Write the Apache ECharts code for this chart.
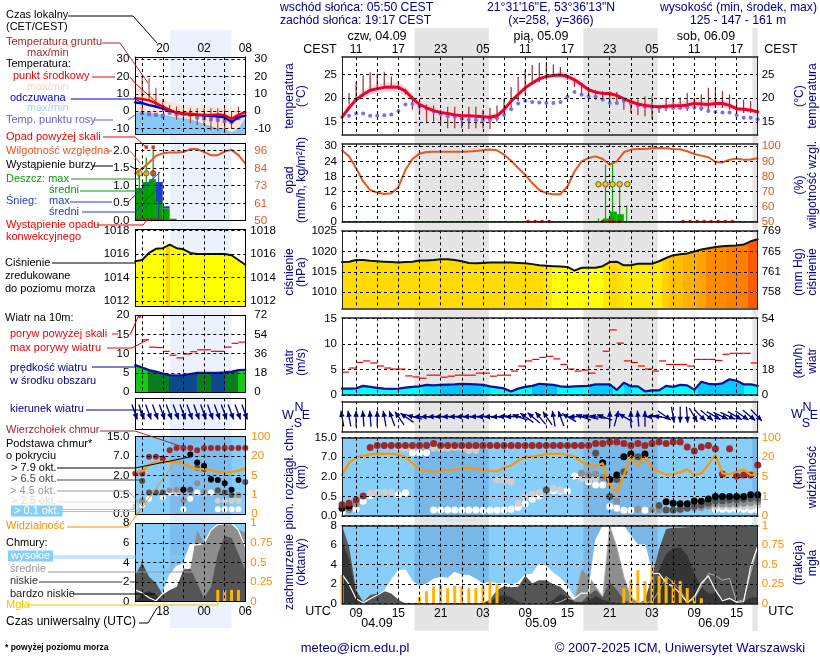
<!DOCTYPE html>
<html><head><meta charset="utf-8">
<script src="https://cdn.jsdelivr.net/npm/echarts@6/dist/echarts.min.js"></script>
<style>html,body{margin:0;padding:0;background:#fff}#c{width:820px;height:660px}</style></head>
<body><div id="c"></div>
<script>
/* ---------- hourly data of the main meteogram: hours since 04.09 00 UTC, first value = hour 7 ---------- */
const mainStart = 7;
const tempMid = [16,18,19.7,20.8,21.7,22,22.3,22.4,22.3,21.5,20,18.7,18,17.4,17,16.8,16.5,16.3,16.3,16.2,16.1,16,16.3,17.6,19.4,20.8,22.2,23.2,24.1,24.6,24.8,24.9,24.6,23.9,22.9,21.8,21.3,21,21,20.6,19.9,19.3,18.8,18.5,18.3,18.2,18.3,18.4,18.4,18.6,18.9,18.8,18.7,18.9,18.9,18.5,17.8,17.7,17.5,17.1];
const tempSpread = [.3,.4,.5,.8,1,1,1,1,1,1,1,1,1,.8,.8,.7,.7,.7,.7,.7,.7,.7,.7,.6,.4,.4,.4,.4,.4,.4,.4,.8,.8,.8,.8,.6,.4,.4,.4,.4,.5,.8,.8,.8,.8,.8,.6,.5,.9,.9,.9,.9,.9,.9,.9,.7,.5,.5,.5,.4];
const dewPoint = [null,16.3,16.8,16.8,16.3,16.3,16.4,16.6,17.3,18.7,18.8,18.3,17.8,17.2,16.7,16.2,16.1,15.7,15.5,15.4,15.4,15.5,15.8,16.5,17.7,18.9,19.5,19.2,19.1,19,19,19.2,20.3,21.3,20.8,20.4,20.3,19.7,19,19,19.4,18.9,18.5,18.2,18.1,18.1,18.1,18,18,18.1,18,17.9,17.3,17.1,17,17,16.5,15.9,15.9,15.6];
const groundMax = [null,21.1,23.4,24.9,25.5,25.2,25.6,24.6,23.6,22,20.4,18.7,18.7,18.5,17.6,18.2,18.2,16.2,18.2,18.2,17.6,18,18.5,19.9,22.4,24.5,26.1,27,27.5,27.7,27.1,26.6,24.9,23.9,23.2,22.2,21.7,21.5,21.5,21.3,20.1,19.7,19.7,20.4,20.4,18.3,20.1,20.1,20.1,21.1,20.1,20.8,22.2,22.2,21.5,20.8,19.5,19.7,19.4,null];
const groundMin = [null,18.7,19.7,20.4,21.5,22.2,22.4,22.4,22.3,20.8,17.6,16.5,14.9,15.1,14.4,13.7,13.7,13.7,13.5,13.7,13.7,13.5,15.1,16.2,17.3,19.4,20.8,22.9,23.4,23.9,24.5,24.6,23.9,22.4,20.4,20.4,19.7,19.4,19,18.7,17.6,16.9,16.5,16.2,15.6,16.9,17.3,17.6,17.6,17.3,17.6,17.3,17.6,18,18,17.6,16.9,16.9,16.9,null];
const humidity = [97.3,93.3,85.6,76.7,71,69.3,68.4,68.9,72.9,84.4,91.6,95.1,96.2,96.4,96.4,96.4,96.4,96.4,96.6,96.9,97.3,97.8,97.3,94.4,90.4,85.6,81.1,75.6,71,68.9,68.2,68.2,73.3,83.3,90,92.2,93.3,91.6,87.8,90,96,97.8,98.2,98.2,98.7,98.9,98.7,98.2,98,96.7,94.9,93.8,92.7,89.6,89.3,91.1,91.8,91.1,91.3,92];
const rainMean = [[44,45,1.3],[45,46,4.1],[46,47,3]];
const rainMax = [[43.4,1.3],[44.4,22.7],[45.4,24],[46.4,14],[47.4,6.4]];
const thunder = [43.4,44.4,45.4,46.4,47.5];
const convective = [33.4,34.4,35.4,36.4,44,45,45.4,46.4,55.4,56.4,57.4,58.4,59.4,60.4,61.4,62.4];
const pressure = [1017.4,1017.5,1017.9,1017.9,1017.7,1017.6,1017.5,1017.4,1017.3,1017.4,1017.5,1017.8,1017.8,1017.9,1018.1,1018.1,1017.9,1017.6,1017.2,1017.1,1017.2,1017.3,1017.3,1017.3,1017.3,1017.2,1017.1,1016.9,1016.6,1016.5,1016.4,1016.3,1016.2,1015.3,1016,1016,1016,1016.4,1017.4,1017.5,1016.6,1016.6,1017,1017,1017,1017.6,1018.4,1019.1,1019.3,1019.5,1020,1020.5,1020.8,1021.1,1021.3,1021.4,1021.5,1021.7,1022.5,1023];
const pressureBands = [[7,'#ffdb00'],[35.5,'#ffe600'],[36.8,'#ffff00'],[44,'#ffea00'],[45,'#ffd900'],[46,'#ffe100'],[47,'#ffea00'],[52.4,'#ffd200'],[53.4,'#ffc000'],[55.4,'#ffb000'],[57.4,'#ffa500'],[58.6,'#ff8c00'],[61.6,'#ff8000'],[64.6,'#ff5a00']];
const windSpeed = [1.25,1.25,1.3,1.8,1.6,1.4,1.25,1.2,1.25,1.45,1.6,1.7,2,1.9,2,2.05,2.1,2.2,2.15,2.1,2,1.7,1.5,1.3,.7,1.25,1.6,1.8,2.2,2.1,2,1.7,1.6,1.7,1.75,1.8,2.1,2.1,2.1,1,2.4,1.7,1.7,.7,.9,.9,1.8,1.6,2,1.9,1.05,2.6,2.2,2.1,2.3,3.1,2.8,2.1,2.1,1.8];
const windBands = [[7,'#00ffff'],[18.5,'#00e0ff'],[21,'#00c4ff'],[27,'#00e0ff'],[28,'#00ffff'],[34,'#00c4ff'],[37.5,'#00ffff'],[42,'#00ccff'],[45.5,'#00ffff'],[47,'#00d8ff'],[48,'#00ffff'],[57.5,'#00ccff'],[64,'#00ffff']];
const gusts = [4.5,5.3,6.4,6.7,6.3,5.7,5.3,5.1,5.1,3.75,3.55,3.3,3.9,3.9,3.5,3.7,3.9,3.9,3.9,4.3,4.3,3.7,3.9,3.9,4.7,5.7,6.7,7,7.4,7.6,7.1,6,5.1,4.7,4.9,4.3,5.7,8.6,12.8,10.2,6.7,6.4,5.7,5.1,4.7,6.7,6,6,6,5.7,7,7,7,6.8,8,8.2,8.2,8.2,6.3];
const windDir = [-10,-10,0,-5,-5,0,-10,-20,-35,-55,-75,-90,-92,-92,-92,-92,-92,-92,-92,-92,-92,-90,-95,-92,-90,-70,-55,-50,-40,-35,-10,-20,-60,-90,-70,-75,-80,-70,0,15,-60,0,-5,0,-90,-80,125,170,180,175,150,135,130,120,115,115,120,125,130,135];
/* cloud heights and visibility are given as positions on the panel's stepped scale (0, 1, 2, 3, 4 = tick labels) */
const baseTicksKm = ['0.0','0.5','2.0','7.0','15.0'];
const visTicksKm = ['0','1','5','20','100'];
const visibility = [2.1,2.7,3,3.07,3.15,3.17,3.17,3.17,3.13,3.03,2.7,2.38,2.3,2.26,2.31,2.35,2.38,2.43,2.47,2.42,2.35,2.3,2.28,2.47,2.57,2.83,3.03,3.03,3.08,3.17,3.17,3.17,3.13,3.03,2.77,2.6,2.55,2.7,1.58,1.19,2.09,3.06,2.6,3,2.43,2.26,2.11,2.13,2.23,2.38,2.09,2.18,2.64,3.11,2.18,2.13,2.26,2.38,2.09,2.14];
const cloudTops = [.58,.65,.82,1.02,3.5,3.6,3.6,3.6,3.6,3.6,3.6,3.6,3.6,3.7,3.6,3.6,3.6,3.6,3.6,3.6,3.6,3.6,3.6,3.6,3.6,3.6,3.6,3.6,3.6,3.6,3.6,3.6,3.6,3.6,3.6,3.6,3.7,3.7,3.78,3.78,3.7,3.6,3.7,3.6,3.7,3.78,3.7,3.78,3.78,3.52,3.32,3.52,3.6,3.44,2.14,3.44,2.04,2.09,2.09,2.6];
const baseBlack = [[7,.39],[8,.51],[44,2.72],[45,1.87],[46,2.09],[47,3.03],[48,3.17],[50,3.17],[53,.73],[54,.65],[55,.63],[56,.63],[57,.77],[58,.75],[59,.87],[60,.99],[61,.99],[62,.99],[63,.99],[64,.99],[65,1.09],[66,1.09]];
const baseDark = [[8,.44],[36,1.33],[43,3.2],[45,.99],[46,1.87],[47,2.26],[49,3.03],[52,.54],[53,.31],[54,.31],[55,.36],[56,.39],[57,.51],[58,.56],[59,.65],[60,.78],[61,.78],[62,.82],[63,.82],[64,.85],[65,.9],[66,.9]];
const baseGray = [[8,.31],[9,.61],[41,2.18],[42,2.09],[43,2.14],[44,1.97],[46,.77],[49,.34],[51,.31],[52,.31],[54,.31],[55,.31],[57,.43],[58,.44],[59,.51],[60,.61],[61,.61],[62,.61],[63,.61],[64,.65],[65,.68],[66,.73]];
const baseLight = [[11,1.16],[12,1.21],[13,1.21],[14,1.21],[15,3.46],[16,3.46],[17,3.54],[19,3.54],[20,3.46],[21,3.43],[22,3.46],[23,3.51],[24,3.46],[25,3.35],[26,3.35],[28,3.57],[29,1.84],[30,1.84],[31,1.75],[32,.65],[33,.99],[34,1.12],[35,1.21],[36,1.29],[37,1.41],[38,1.33],[41,1.92],[42,1.84],[43,1.92],[60,.48],[61,.48],[62,.48],[63,.48],[64,.48],[65,.48],[66,.56]];
const baseWhite = [[7,.2],[8,.31],[9,.37],[10,.75],[11,1.04],[15,1.09],[16,1.19],[17,3.23],[18,3.23],[19,3.23],[20,.31],[21,.31],[22,.31],[23,.31],[24,.31],[25,.31],[26,.31],[27,.29],[28,.29],[29,.29],[30,.31],[31,.34],[32,.44],[33,.63],[34,.85],[35,1.02],[37,1.28],[38,1.28],[39,1.28],[40,2.04],[41,1.96],[42,1.75],[43,1.58],[44,1.58],[45,.48],[46,.39],[47,.29],[48,.29],[50,.29],[51,.29],[60,.34],[61,.34],[62,.34],[63,.34],[64,.34],[65,.31],[66,.31]];
const cloudHigh = [3,2,.5,.1,.5,.9,1.3,2.4,3.4,3.45,2.25,1.8,2,2.5,2.7,2.6,3.2,2.9,2.9,2.5,2,2.25,2,2.1,1.9,2.15,2.95,3,4.05,3.8,3.1,2.6,1.75,.55,1.1,1.06,6.5,7.9,8,7.9,7.9,6.9,6,6,3.1,3.1,2.1,1.75,1.05,.1,.7,2.1,2.85,1.4,.3,.55,.15,.2,3.8,5.9];
const cloudMid = [0,0,0,0,0,0,0,0,0,0,0,0,0,0,0,0,0,0,0,0,0,0,0,0,0,0,0,0,0,0,0,.2,.55,.4,3.6,2.8,1.8,.7,8,5.8,2.8,.7,.1,.1,.2,1.3,2.8,2.2,1.4,.1,.5,1.75,3.1,2.9,2.4,2.6,.2,.4,3.1,5.9];
const cloudLow = [8,5.85,1.4,.2,.9,1.05,1.3,1.05,.4,0,0,0,0,0,0,0,0,0,0,0,.1,.4,1.4,1.8,1.7,1.75,2.87,2.1,2.4,2.4,2,1.75,1.05,.2,.2,.9,1.4,.7,2.25,1.4,.4,.1,0,.4,2.8,5.6,7.65,7.8,7.8,7.85,7.9,7.9,7.9,7.9,7.9,7.9,7.9,7.9,7.9,7.9];
const cloudVeryLow = [6.5,4.5,1,.1,0,0,0,0,0,0,0,0,0,0,0,0,0,0,0,0,0,.2,.7,.9,.7,.2,0,0,0,0,.4,1,.7,.2,.1,.3,.8,.4,.2,.1,0,0,0,0,.2,3.45,5.1,5.7,5.8,5,3.1,1.75,1.05,1.05,.5,.4,.2,.2,.6,.7];
const fogFraction = [[7,.37],[18,.09],[19,.16],[20,.22],[21,.24],[22,.2],[23,.23],[24,.22],[25,.2],[26,.2],[27,.24],[28,.29],[29,.25],[47,.2],[48,.3],[49,.43],[50,.29],[51,.48],[52,.36],[53,.33],[54,.3],[55,.29],[56,.2],[57,.1],[58,.07]];

/* ---------- the small left meteogram: first value = hour 14 ---------- */
const leftStart = 14;
const lTemp = [7.5,7,6.2,4.6,2.7,.8,-.8,-1.5,-1.5,-1.9,-2.1,-2.1,-1.9,-2.3,-4.4,-2.1,-.6];
const lFeel = [5,4.6,3.5,2.7,1.5,.4,-.8,-1.5,-1.9,-2.1,-2.5,-2.7,-3.1,-3.5,-6.3,-3.5,-2.5];
const lTempMaxMin = [13.8,12,10.4,8.5,6.9,5.6,4.6,4,3.7,3.2,2.7,2.7,2.7,2.3,1.7,0,0];
const lFeelMaxMin = [-.8,-.8,-.8,-1.4,-2.1,-2.8,-3.5,-4,-4.6,-6,-7.3,-8.5,-9.8,-9.8,-12.3,-9.8,-4];
const lDew = [[15,-1.2],[16,-1.7],[17,-2.1],[18,-2.7],[19,-.8],[20,-1.7],[21,-1.5],[22,-1.9],[23,-3.5],[24,-4],[25,-4.6],[26,-5],[27,-5.6],[28,-6.2],[29,-4]];
const lGround = [[15,20,-1],[16,19,6],[17,13.5,2],[18,7,0],[19,3.7,-2],[20,2.7,-5],[21,1.7,-6],[22,1.7,-7],[23,1.7,-8],[24,1.7,-8],[25,1.7,-11],[26,1.7,-11.5],[27,1.7,-12.7],[28,0,-10],[29,2.7,-5]];
const lHumidity = [81,84.3,88,92.5,94.2,94.7,94.7,95,97,97,95,93,93,95.4,96.5,93,87.6];
const lRain = [[14,15,.94],[15,16,1.1],[16,17,1.18],[17,18,.53],[18,19,.34],[19,20,.05]];
const lSnow = [[17,18,.53,1.1],[18,19,.34,.41]];
const lRainMax = [[14.6,1.3],[15.6,1.8],[16.6,2.07]];
const lSnowMax = [[17.4,1.4]];
const lThunder = [[14.6,'#ffe000'],[15.6,'#f0a000'],[16.6,'#e03000']];
const lOver = [15.6,16.6];
const lConvective = [14.3,14.8,15.3,15.8,16.3,16.8,17.3,17.8];
const lPressure = [1015.4,1015.5,1016.1,1016.45,1016.5,1016.8,1016.5,1016.4,1016.1,1016,1016,1016,1016,1016,1015.9,1015.5,1015.1];
const lPressureBands = [[14,'#ffff00'],[18.4,'#ffd000'],[19,'#ffff00']];
const lWind = [7,6.4,5.7,5.3,4.8,4.4,4.3,4.4,4.7,5,5,5,5,5.1,5.3,5.7,5.8];
const lWindBands = [[14,'#14c814'],[15.8,'#0a7d1e'],[18.9,'#0a4a8c'],[23,'#0a7d1e'],[25,'#0a4a8c'],[27,'#0a7d1e'],[29,'#14c814']];
const lGusts = [[15,16,13.6],[16,17,11.7],[17,18,11.6],[18,19,10.6],[19,20,9.6],[20,21,8.9],[21,22,9.9],[22,23,10.5],[23,25,11],[25,27,10.6],[27,28,11.7],[28,29,12.7],[29,30,13]];
const lWindDir = [160,160,160,160,160,160,160,160,160,160,160,160,160,160,160,160,160];
const lVis = [2.2,2.2,2.56,2.67,2.7,2.7,2.7,2.6,2.44,2.32,2.32,2.27,2.15,2.15,2.18,2.23,2.36];
const lTops = [[14,2.1],[15,2.1],[16,2.96],[17,2.96],[18,2.87],[19,3.3],[20,3.42],[21,3.42],[22,3.42],[23,3.3],[24,3.42],[25,3.42],[26,3.42],[27,3.42],[28,3.42],[29,3.42],[30,3.42]];
const lBlack = [[21,1.26],[22,3.08],[23,2.67],[24,2.5],[25,1.81],[26,1.76],[27,1.59],[28,1.26],[29,1.76]];
const lDark = [[15,1.71],[16,1.11],[17,1.11],[18,1.11],[21,1.26],[22,1.26],[23,2.39],[24,2.32],[25,1.76],[26,1.23],[27,1.11],[28,.98],[30,1.66]];
const lGray = [[15,.68],[19,1.23],[20,1.26],[21,.68],[22,1.23],[23,1.59],[24,1.15],[26,1.15],[29,.98]];
const lLight = [[14,.38],[19,1.26],[20,1.06],[26,.68],[27,.68],[28,.68],[29,.68]];
const lWhite = [[15,.46],[16,.79],[18,.87],[19,1.11],[21,.24],[22,.79],[23,1.11],[24,1.11],[25,1.11],[26,.24],[27,.24],[28,.24],[29,.24]];
const lHigh = [1.2,.9,.4,.1,.85,2.7,3.6,3.9,5.8,5.8,5.95,7.3,7.9,8,8,7.3,5.6];
const lMid = [0,0,0,0,0,0,.5,3.4,3.3,7.3,5.95,7.3,7.8,7.9,7.9,7.4,7];
const lLow = [2.7,4,2.55,1.9,.7,1.2,1.5,3.2,3.4,1.9,.35,1.5,4.9,6.7,6.5,4.9,3.2];
const lVeryLow = [0,.85,1.1,.7,0,0,0,0,0,0,0,0,0,0,0,0,0];
const lFog = [[26,.15],[27,.15],[28,.15],[29,.15]];

/* ---------- shared ---------- */
const nightsUTC = [[17.29,27.83],[41.25,51.8],[65.25,66]];
const leftNight = [[19.05,28]];
const mainGridHours = [9,12,15,18,21,24,27,30,33,36,39,42,45,48,51,54,57,60,63];
const mainLabelHours = [9,15,21,27,33,39,45,51,57,63];
const leftGridHours = [15,18,21,24,27,30];
const leftLabelHours = [18,24,30];

const FONT = '"Liberation Sans", Arial, sans-serif';
const TICK = 11.5;
const grids=[], xAxes=[], yAxes=[], series=[];
const pad2 = h => String(((h%24)+24)%24).padStart(2,'0');
const zip = (start, arr) => arr.map((v,i)=>v==null?null:[start+i,v]).filter(Boolean);
const ORED='#e8561e', ORNG='#ff8c00';

function panel(c){
  const i = grids.length;
  grids.push({left:c.x0, top:c.top, width:c.x1-c.x0, height:c.bottom-c.top, show:false});
  const bw = c.bw||1, bc=c.bc||'#000';
  const xBase = {type:'value', gridIndex:i, min:c.xmin, max:c.xmax, z:20, silent:true,
    axisTick:{show:false, customValues:c.xgrid}, splitLine:{show:false}, axisLabel:{show:false},
    axisLine:{show:!c.hidden,onZero:false,lineStyle:{color:bc,width:bw}}};
  const bottomLab = c.xBottom ? {show:true, customValues:c.xLabels, formatter:v=>pad2(v), color:'#000', fontSize:TICK+.5, fontFamily:FONT, margin:c.xBottomM||4}:{show:false};
  const topLab = c.xTop ? {show:true, customValues:c.xLabels, formatter:v=>pad2(v+2), color:'#000', fontSize:TICK+.5, fontFamily:FONT, margin:c.xTopM||1}:{show:false};
  xAxes.push(Object.assign({},xBase,{position:'bottom',axisLabel:bottomLab,
    splitLine:{show:!c.hidden,lineStyle:{color:'#000',type:[3,3],width:1}}}));
  xAxes.push(Object.assign({},xBase,{position:'top',axisLabel:topLab}));
  const yBase = {type:'value', gridIndex:i, z:20, silent:true, axisTick:{show:false}, splitLine:{show:false},
    axisLine:{show:!c.hidden,onZero:false,lineStyle:{color:bc,width:1}}};
  const lab=(ticks,fmt,color,m)=>ticks?{show:true,customValues:ticks,formatter:fmt||(v=>String(v)),color:color||'#000',fontSize:TICK,fontFamily:FONT,margin:m}:{show:false};
  yAxes.push(Object.assign({},yBase,{position:'left',min:c.ymin,max:c.ymax,
    axisTick:{show:false,customValues:c.yticks||[]},
    axisLabel:lab(c.yticks,c.yfmt,null,c.lm||5),
    splitLine:{show:!!c.yticks,lineStyle:{color:'#000',type:[3,3],width:1}}}));
  yAxes.push(Object.assign({},yBase,{position:'right',min:c.rmin==null?c.ymin:c.rmin,max:c.rmax==null?c.ymax:c.rmax,
    axisTick:{show:false,customValues:c.rticks||[]},
    axisLabel:lab(c.rticks,c.rfmt,c.rcolor,c.rm||4)}));
  return {x:2*i,xTop:2*i+1,y:2*i,yR:2*i+1};
}
const base = (p,z,right)=>({xAxisIndex:p.x,yAxisIndex:right?p.yR:p.y,z,silent:true,animation:false});
function line(p,data,color,width,z,right,extra){
  series.push(Object.assign(base(p,z,right),{type:'line',data,symbol:'none',showSymbol:false,clip:true,
    lineStyle:{color,width,cap:'round',join:'round'}},extra||{}));
}
function area(p,data,fill,z,right){
  series.push(Object.assign(base(p,z,right),{type:'line',data,symbol:'none',showSymbol:false,
    lineStyle:{width:0,color:'transparent'},areaStyle:{color:fill,opacity:1,origin:'start'}}));
}
function dots(p,data,color,size,z,right,extra){
  series.push(Object.assign(base(p,z,right),{type:'scatter',data,symbol:'circle',symbolSize:size,itemStyle:Object.assign({color,opacity:1},extra||{})}));
}
/* items: [x0,x1,y0,y1,color] */
function rects(p,items,z,right){
  series.push(Object.assign(base(p,z,right),{type:'custom',data:items.map(a=>a.slice(0,4)),clip:true,
    renderItem(params,api){
      const a=api.coord([api.value(0),api.value(2)]), b=api.coord([api.value(1),api.value(3)]);
      return {type:'rect',shape:{x:a[0],y:b[1],width:b[0]-a[0],height:a[1]-b[1]},style:{fill:items[params.dataIndex][4]}};
    }}));
}
/* items: [x0,y0,x1,y1] */
function segs(p,items,color,width,z,right){
  series.push(Object.assign(base(p,z,right),{type:'custom',data:items,
    renderItem(params,api){
      const a=api.coord([api.value(0),api.value(1)]), b=api.coord([api.value(2),api.value(3)]);
      return {type:'line',shape:{x1:a[0],y1:a[1],x2:b[0],y2:b[1]},style:{stroke:color,lineWidth:width}};
    }}));
}
/* fixed-pixel-width bars: items [x,y] */
function thinBars(p,items,color,w,z,right){
  series.push(Object.assign(base(p,z,right),{type:'custom',data:items,
    renderItem(params,api){
      const a=api.coord([api.value(0),api.value(1)]), b=api.coord([api.value(0),0]);
      return {type:'rect',shape:{x:a[0]-w/2,y:a[1],width:w,height:b[1]-a[1]},style:{fill:color}};
    }}));
}
function ribbon(p,xs,lo,hi,color,z){
  series.push(Object.assign(base(p,z),{type:'custom',data:[[xs[0],lo[0]]],
    renderItem(params,api){
      const pts=xs.map((x,i)=>api.coord([x,hi[i]])).concat(xs.map((x,i)=>api.coord([x,lo[i]])).reverse());
      return {type:'polygon',shape:{points:pts},style:{fill:color}};
    }}));
}
function arrows(p,data,len1,len2,headW,z){
  series.push(Object.assign(base(p,z),{type:'custom',data,
    renderItem(params,api){
      const c=api.coord([api.value(0),.5]), th=api.value(1)*Math.PI/180, dx=Math.sin(th), dy=-Math.cos(th);
      const head=[c[0]+dx*len2,c[1]+dy*len2], tail=[c[0]-dx*len1,c[1]-dy*len1];
      const b=[head[0]-dx*6,head[1]-dy*6];
      return {type:'group',children:[
        {type:'line',shape:{x1:tail[0],y1:tail[1],x2:head[0],y2:head[1]},style:{stroke:'#00008b',lineWidth:1.3}},
        {type:'polygon',shape:{points:[head,[b[0]-dy*headW,b[1]+dx*headW],[b[0]+dy*headW,b[1]-dx*headW]]},style:{fill:'#00008b'}}
      ]};
    }}));
}
const grad=(bands,a,b)=>{
  const stops=[];
  bands.forEach((s,i)=>{
    const o0=(s[0]-a)/(b-a), o1=i+1<bands.length?(bands[i+1][0]-a)/(b-a):1;
    stops.push({offset:o0,color:s[1]},{offset:o1,color:s[1]});
  });
  return {type:'linear',x:0,y:0,x2:1,y2:0,colorStops:stops};
};

/* ---------- panels ---------- */
const M={x0:342,x1:757.7,xmin:7,xmax:66,xgrid:mainGridHours,xLabels:mainLabelHours,bw:1.6,bc:'#222'};
const L={x0:135.3,x1:245.3,xmin:14,xmax:30,xgrid:leftGridHours,xLabels:leftLabelHours,lm:6,rm:9};
const mainHours=tempMid.map((_,i)=>mainStart+i);

/* backgrounds */
const bgM=panel({x0:342,x1:757.7,top:28,bottom:631,xmin:7,xmax:66,ymin:0,ymax:1,xgrid:[],hidden:true});
rects(bgM,nightsUTC.map(n=>[n[0],n[1],0,1,'#e5e5e5']),1);
const bgL=panel({x0:135.3,x1:245.3,top:30,bottom:628,xmin:14,xmax:30,ymin:0,ymax:1,xgrid:[],hidden:true});
rects(bgL,leftNight.map(n=>[n[0],n[1],0,1,'#ebf2fd']),1);

/* main temperature */
const mT=panel(Object.assign({},M,{top:57,bottom:135,ymin:12.26,ymax:28.7,yticks:[15,20,25],rticks:[15,20,25],xTop:true,xTopM:0}));
ribbon(mT,mainHours,tempMid.map((v,i)=>v-tempSpread[i]),tempMid.map((v,i)=>v+tempSpread[i]),'#fbdbe3',3);
segs(mT,groundMax.map((v,i)=>v==null?null:[mainStart+i,v,mainStart+i,groundMin[i]]).filter(Boolean),'#a52a2a',1.2,4);
dots(mT,zip(mainStart,dewPoint),'#7a6cf0',4,5);
line(mT,zip(mainStart,tempMid),'#f0002d',3,6);

/* main rain + humidity */
const mR=panel(Object.assign({},M,{top:144,bottom:221.7,ymin:0,ymax:30.9,yticks:[0,6,12,18,24,30],rmin:50,rmax:101.5,rticks:[50,60,70,80,90,100],rcolor:ORED}));
rects(mR,rainMean.map(r=>[r[0],r[1],0,r[2],'#00b000']),3);
segs(mR,rainMax.map(r=>[r[0],0,r[0],r[1]]),'#00b000',1.2,3);
segs(mR,[[7,0,66,0]],'#008000',1.5,3);
dots(mR,convective.map(h=>[h,0.1]),'#e00000',3.5,5);
dots(mR,thunder.map(h=>[h,14.9]),'#f4c51e',5.5,6,false,{borderColor:'#444',borderWidth:.8});
line(mR,zip(mainStart,humidity),'#e8561e',2,5,true);

/* main pressure */
const mP=panel(Object.assign({},M,{top:230.3,bottom:308.3,ymin:1006.06,ymax:1025.2,yticks:[1010,1015,1020,1025],rticks:[1010,1015,1020,1025],
  rfmt:v=>({1010:'758',1015:'761',1020:'765',1025:'769'})[v]}));
area(mP,zip(mainStart,pressure),grad(pressureBands,7,66),3);
line(mP,zip(mainStart,pressure),'#111',2,4);

/* main wind */
const mW=panel(Object.assign({},M,{top:317.7,bottom:395,ymin:0,ymax:15.2,yticks:[0,5,10,15],rticks:[0,5,10,15],rfmt:v=>String(v*3.6)}));
area(mW,zip(mainStart,windSpeed),grad(windBands,7,66),3);
line(mW,zip(mainStart,windSpeed),'#10109c',2.2,4);
segs(mW,gusts.map((v,i)=>[mainStart+i,v,mainStart+i+1,v]),'#f00000',1.2,5);

/* main wind direction */
const mD=panel(Object.assign({},M,{top:401.3,bottom:432,ymin:0,ymax:1}));
arrows(mD,zip(mainStart,windDir),10,6,2.8,5);

/* main cloud base */
const skyAndNight=(p,nights,xa,xb,night)=>{rects(p,[[xa,xb,-100,100,'#87cefa']],2);rects(p,nights.map(n=>[n[0],n[1],-100,100,night]),2.5);};
const mB=panel(Object.assign({},M,{top:437.7,bottom:516,ymin:0,ymax:4,yticks:[0,1,2,3,4],yfmt:v=>baseTicksKm[v],rticks:[0,1,2,3,4],rfmt:v=>visTicksKm[v],rcolor:ORNG}));
skyAndNight(mB,nightsUTC,7,66,'#78b8e8');
dots(mB,baseWhite,'#fff',7,3);dots(mB,baseLight,'#cfcfcf',7,4);dots(mB,baseGray,'#8f8f8f',7,5);
dots(mB,baseDark,'#555',7,6);dots(mB,baseBlack,'#000',7,7);dots(mB,zip(mainStart,cloudTops),'#9c2a2a',7,8);
line(mB,zip(mainStart,visibility),'#ff9600',2.2,9);

/* main cloud cover */
const mC=panel(Object.assign({},M,{top:525.7,bottom:603.7,ymin:0,ymax:8,yticks:[0,2,4,6,8],rmin:0,rmax:1,rticks:[0,.25,.5,.75,1],rcolor:ORNG,xBottom:true}));
skyAndNight(mC,nightsUTC,7,66,'#78b8e8');
area(mC,zip(mainStart,cloudHigh),'#fff',3);area(mC,zip(mainStart,cloudMid),'#8e8e8e',4);
area(mC,zip(mainStart,cloudLow),'#555',5);area(mC,zip(mainStart,cloudVeryLow),'#353535',6);
line(mC,zip(mainStart,cloudMid),'#b0b0b0',1,7);line(mC,zip(mainStart,cloudHigh),'#fff',1.2,7);
thinBars(mC,fogFraction,'#ffb400',3,8,true);

/* left temperature */
const lT=panel(Object.assign({},L,{top:57,bottom:134.3,ymin:-13.3,ymax:31.2,yticks:[-10,0,10,20,30],rticks:[-10,0,10,20,30],xTop:true,xTopM:2}));
area(lT,zip(leftStart,lTempMaxMin),'#fde5d8',3);area(lT,zip(leftStart,lFeelMaxMin),'#86c8f8',4);
segs(lT,lGround.map(g=>[g[0],g[1],g[0],g[2]]),'#a52a2a',1,5);
series.push(Object.assign(base(lT,6),{type:'scatter',data:lDew,symbol:'rect',symbolSize:4,itemStyle:{color:'#6a5acd'}}));
line(lT,zip(leftStart,lFeel),'#0000e6',2.4,7);line(lT,zip(leftStart,lTemp),'#f00000',2.4,8);

/* left rain + humidity */
const lR=panel(Object.assign({},L,{top:143.3,bottom:220.5,ymin:0,ymax:2.21,yticks:[0,.5,1,1.5,2],yfmt:v=>v.toFixed(1),rmin:50,rmax:100.8,rticks:[50,60.9,72.9,84,96],rfmt:v=>String(Math.round(v+.1)),rcolor:ORED}));
rects(lR,lRain.map(r=>[r[0],r[1],0,r[2],'#00a000']),3);
rects(lR,lSnow.map(r=>[r[0],r[1],r[2],r[3],'#1f3fbf']),3);
segs(lR,lRainMax.map(r=>[r[0],0,r[0],r[1]]),'#00a000',1.2,4);
segs(lR,lSnowMax.map(r=>[r[0],0,r[0],r[1]]),'#1f3fbf',1,4);
dots(lR,lConvective.map(h=>[h,.02]),'#e00000',3,5);
series.push(Object.assign(base(lR,6),{type:'scatter',data:lThunder.map(t=>({value:[t[0],1.35],itemStyle:{color:t[1],borderColor:'#333',borderWidth:.8}})),symbol:'circle',symbolSize:5.5}));
series.push(Object.assign(base(lR,6),{type:'scatter',data:lOver.map(h=>[h,2.1]),symbol:'rect',symbolSize:3.5,itemStyle:{color:'#e00000'}}));
line(lR,zip(leftStart,lHumidity),'#e8561e',2,7,true);

/* left pressure */
const lP=panel(Object.assign({},L,{top:229.3,bottom:306,ymin:1011.6,ymax:1018.1,yticks:[1012,1014,1016,1018],rticks:[1012,1014,1016,1018],rm:5}));
area(lP,zip(leftStart,lPressure),grad(lPressureBands,14,30),3);
line(lP,zip(leftStart,lPressure),'#111',2,4);

/* left wind */
const lW=panel(Object.assign({},L,{top:315.3,bottom:392,ymin:0,ymax:20,yticks:[0,5,10,15,20],rticks:[0,5,10,15,20],rfmt:v=>String(v*3.6)}));
area(lW,zip(leftStart,lWind),grad(lWindBands,14,30),3);
line(lW,zip(leftStart,lWind),'#10109c',2.2,4);
segs(lW,lGusts.map(g=>[g[0],g[2],g[1],g[2]]),'#f00000',1.2,5);
dots(lW,[[14.6,19.7]],'#f00000',3,5);

/* left wind direction */
const lD=panel(Object.assign({},L,{top:398.3,bottom:429.3,ymin:0,ymax:1}));
arrows(lD,zip(leftStart,lWindDir),10,6,2.8,5);

/* left cloud base */
const lB=panel(Object.assign({},L,{top:436.7,bottom:514,ymin:0,ymax:4,yticks:[0,1,2,3,4],yfmt:v=>baseTicksKm[v],rticks:[0,1,2,3,4],rfmt:v=>visTicksKm[v],rcolor:ORNG,rm:6}));
skyAndNight(lB,leftNight,14,30,'#7cbcee');
dots(lB,lWhite,'#fff',6,3);dots(lB,lLight,'#cfcfcf',6,4);dots(lB,lGray,'#8f8f8f',6,5);
dots(lB,lDark,'#555',6,6);dots(lB,lBlack,'#000',6,7);dots(lB,lTops,'#9c2a2a',6,8);
line(lB,zip(leftStart,lVis),'#ff9600',2.2,9);

/* left cloud cover */
const lC=panel(Object.assign({},L,{top:523.3,bottom:601.7,ymin:0,ymax:8,yticks:[0,2,4,6,8],rmin:0,rmax:1,rticks:[0,.25,.5,.75,1],rcolor:ORNG,xBottom:true,rm:5}));
skyAndNight(lC,leftNight,14,30,'#7cbcee');
area(lC,zip(leftStart,lHigh),'#fff',3);area(lC,zip(leftStart,lMid),'#8e8e8e',4);
area(lC,zip(leftStart,lLow),'#555',5);area(lC,zip(leftStart,lVeryLow),'#353535',6);
line(lC,zip(leftStart,lHigh),'#fff',1.2,7);
thinBars(lC,lFog,'#ffb400',3,8,true);

/* ---------- text ---------- */
const NAVY='#00008b', RED='#f00000', BRN='#a52a2a';
const tx=(x,y,text,fill,o)=>{o=o||{};return {type:'text',x,y,z:30,silent:true,rotation:o.rot||0,style:Object.assign({text,fill:fill||'#000',font:(o.b?'bold ':'')+(o.s||11)+'px '+FONT,textAlign:o.a||'left',textVerticalAlign:'middle'},o.bg?{backgroundColor:o.bg,padding:[0,3,0,3]}:{})};};
const V=Math.PI/2;
const texts=[
 ['Czas lokalny',6,15],['(CET/CEST)',6,27],
 ['Temperatura gruntu',6,42,BRN],['max/min',27,53,BRN],['Temperatura:',6,64],
 ['punkt środkowy',13,76,RED],['max/min',27,87,'#fbd8c8'],['odczuwana',10,98,'#0000e6'],['max/min',27,108,'#9fd8f8'],['Temp. punktu rosy',6,120,'#6a5acd'],
 ['Opad powyżej skali',6,137,RED],['Wilgotność względna',6,151,ORED],['Wystąpienie burzy',6,165],
 ['Deszcz: max',6,179,'#0a9a0a'],['średni',49,190,'#0a9a0a'],['Śnieg:',6,201,'#2040c0'],['max',49,201,'#2040c0'],['średni',49,212,'#2040c0'],
 ['Wystąpienie opadu',6,225,RED],['konwekcyjnego',6,237,RED],
 ['Ciśnienie',5,263],['zredukowane',5,276],['do poziomu morza',5,289],
 ['Wiatr na 10m:',5,318],['poryw powyżej skali',10,334,RED],['max porywy wiatru',10,348,RED],['prędkość wiatru',10,368,NAVY],['w środku obszaru',10,381,NAVY],
 ['kierunek wiatru',10,409,NAVY],['Wierzchołek chmur',6,430,BRN],
 ['Podstawa chmur*',6,444],['o pokryciu',6,456],['> 7.9 okt.',11,468],['> 6.5 okt.',11,479,'#444'],['> 4.5 okt.',10,491,'#999'],['> 2.5 okt.',11,501,'#ddd'],
 ['Widzialność',6,526,ORNG],['Chmury:',6,543],['średnie',10,569,'#999'],['niskie',10,581,'#333'],['bardzo niskie',10,594,'#222'],['Mgła',6,605,'#ffc000']
];
const elements=texts.map(t=>tx(t[1],t[2],t[0],t[3]));
elements.push(tx(6,622,'Czas uniwersalny (UTC)','#000',{s:12}));
elements.push(tx(11,511,'> 0.1 okt.','#fff',{bg:'#87cefa'}));
elements.push(tx(8,556,'wysokie','#fff',{bg:'#87cefa'}));
elements.push(tx(5,648,'* powyżej poziomu morza','#000',{b:true,s:8.5}));
[
 ['wschód słońca: 05:50 CEST',280,8,'left'],['zachód słońca: 19:17 CEST',280,21,'left'],
 ['21°31\'16"E, 53°36\'13"N',551,8,'center'],['(x=258,  y=366)',551,21,'center'],
 ['wysokość (min, środek, max)',817,8,'right'],['125 - 147 - 161 m',738,21,'center']
].forEach(t=>elements.push(tx(t[1],t[2],t[0],NAVY,{a:t[3],s:12.2})));
[['czw, 04.09',377,37],['pią, 05.09',541,37],['sob, 06.09',706,37],['04.09',377,624],['05.09',541,624],['06.09',714,624],
 ['CEST',320,50],['CEST',781,50],['UTC',318,612],['UTC',781,612]].forEach(t=>elements.push(tx(t[1],t[2],t[0],'#000',{a:'center',s:12.5})));
elements.push(tx(355,648,'meteo@icm.edu.pl',NAVY,{a:'center',s:13}));
elements.push(tx(680,648,'© 2007-2025 ICM, Uniwersytet Warszawski',NAVY,{a:'center',s:13}));
[
 ['temperatura',290,96],['(°C)',302,96],['opad',290,180],['(mm/h, kg/m²/h)',302,180],['ciśnienie',290,272],['(hPa)',302,272],['wiatr',290,362],['(m/s)',302,362],
 ['pion. rozciągł. chm.',290,477],['(km)',302,477],['zachmurzenie',290,572],['(oktanty)',302,562],
 ['temperatura',813,96],['(°C)',800,96],['wilgotność wzgl.',813,185],['(%)',800,185],['ciśnienie',813,272],['(mm Hg)',799,272],['wiatr',813,361],['(km/h)',799,361],
 ['widzialność',813,477],['(km)',799,477],['mgła',813,563],['(frakcja)',799,563]
].forEach(t=>elements.push(tx(t[1],t[2],t[0],NAVY,{a:'center',rot:V,s:12.2})));
[['W',288,416],['N',299,408],['E',306,416],['S',298,424],['W',797,415],['N',807,408],['E',814,416],['S',806,424]].forEach(t=>elements.push(tx(t[1],t[2],t[0],NAVY,{a:'center',s:12.5})));

const leaders=[
 [[[68,16],[133,16],[157,43]],'#000'],
 [[[102,43],[120,43],[148,83]],BRN],
 [[[92,77],[115,77]],RED],[[[130,77],[135,83],[157,103]],RED],
 [[[71,99],[135,99],[147,105]],'#0000e6'],
 [[[94,120],[113,120]],'#6a5acd'],[[[128,120],[135,115]],'#6a5acd'],
 [[[103,137],[135,137],[146,147]],RED],
 [[[106,151],[112,151]],ORED],[[[130,151],[140,163]],ORED],
 [[[93,166],[113,166]],'#000'],[[[130,166],[137,170]],'#000'],
 [[[71,179],[139,179],[139,172]],'#0a9a0a'],[[[80,191],[143,191]],'#0a9a0a'],
 [[[70,202],[112,202]],'#2040c0'],[[[128,202],[160,172]],'#2040c0'],
 [[[82,212],[135,212],[163,182]],'#2040c0'],
 [[[97,225],[143,225],[147,220]],RED],
 [[[52,263],[135,263]],'#000'],
 [[[112,334],[118,334]],RED],[[[130,335],[138,317]],RED],
 [[[107,348],[132,348],[147,340]],RED],
 [[[92,367],[135,367]],NAVY],
 [[[86,410],[140,410],[142,417]],NAVY],
 [[[100,431],[135,431],[183,447]],BRN],
 [[[57,468],[135,468],[190,457]],'#000'],
 [[[57,480],[143,480]],'#444'],
 [[[57,491],[128,491],[143,507]],'#999'],
 [[[57,502],[135,502]],'#ddd'],
 [[[55,509.5],[135,509.5]],'#87cefa'],[[[55,511.5],[135,511.5]],'#87cefa'],
 [[[67,527],[128,527],[173,465]],ORNG],
 [[[53,556],[185,556]],'#87cefa'],[[[53,558],[185,558]],'#87cefa'],
 [[[48,572],[193,572]],'#999'],
 [[[39,582],[122,582]],'#333'],[[[130,582],[135,582]],'#333'],
 [[[73,594],[155,594]],'#000'],
 [[[27,605],[218,605],[218,600]],'#ffc000'],
 [[[139,623],[148,623],[157,608]],'#000']
];
leaders.forEach(l=>elements.push({type:'polyline',z:30,silent:true,shape:{points:l[0]},style:{stroke:l[1],fill:null,lineWidth:1}}));

const chart=echarts.init(document.getElementById('c'),null,{renderer:'canvas'});
chart.setOption({animation:false,backgroundColor:'#fff',tooltip:{show:false},grid:grids,xAxis:xAxes,yAxis:yAxes,series,graphic:{elements}});
</script></body></html>
